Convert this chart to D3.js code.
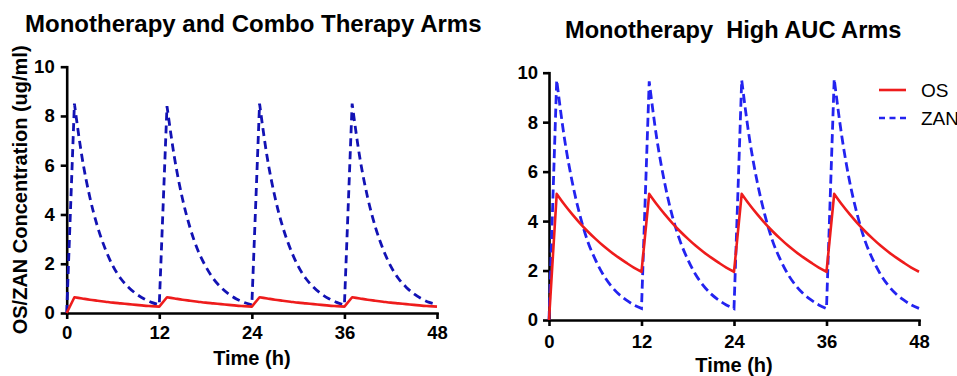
<!DOCTYPE html>
<meta charset="utf-8">
<script src="https://d3js.org/d3.v7.min.js"></script>
<style>
  body { margin: 0; background: #fff; }
  svg { display: block; }
</style>
<div id="chart"></div>
<script>

// time points (h) and axis ticks
var hours = [0,1,2,3,4,5,6,7,8,9,10,11,12,
             13,14,15,16,17,18,19,20,21,22,23,24,
             25,26,27,28,29,30,31,32,33,34,35,36,
             37,38,39,40,41,42,43,44,45,46,47,48];
var timeTicks = [0, 12, 24, 36, 48];
var concTicks = [0, 2, 4, 6, 8, 10];
// index of the peak after each dose (q12h)
var peakIdx = [1, 13, 25, 37];

// Monotherapy and Combo Therapy arms (ug/ml)
var osCombo = [0, 0.64, 0.59, 0.54, 0.50, 0.46, 0.42, 0.39, 0.36, 0.33, 0.30, 0.28, 0.26,
                  0.64, 0.59, 0.54, 0.50, 0.46, 0.42, 0.39, 0.36, 0.33, 0.30, 0.28, 0.26,
                  0.64, 0.59, 0.54, 0.50, 0.46, 0.42, 0.39, 0.36, 0.33, 0.30, 0.28, 0.26,
                  0.64, 0.59, 0.54, 0.50, 0.46, 0.42, 0.39, 0.36, 0.33, 0.30, 0.28, 0.26];
var zanCombo = [0, 8.5, 6.3, 4.7, 3.5, 2.6, 1.9, 1.4, 1.05, 0.78, 0.58, 0.43, 0.33,
                   8.4, 6.25, 4.65, 3.45, 2.55, 1.9, 1.4, 1.04, 0.77, 0.57, 0.43, 0.33,
                   8.5, 6.3, 4.7, 3.5, 2.6, 1.9, 1.4, 1.05, 0.78, 0.58, 0.43, 0.33,
                   8.5, 6.3, 4.7, 3.5, 2.6, 1.9, 1.4, 1.05, 0.78, 0.58, 0.43, 0.35];

// Monotherapy High AUC arms (ug/ml)
var osHigh = [0, 5.1, 4.67, 4.28, 3.92, 3.59, 3.29, 3.01, 2.76, 2.53, 2.32, 2.12, 1.95,
                 5.1, 4.67, 4.28, 3.92, 3.59, 3.29, 3.01, 2.76, 2.53, 2.32, 2.12, 1.95,
                 5.1, 4.67, 4.28, 3.92, 3.59, 3.29, 3.01, 2.76, 2.53, 2.32, 2.12, 1.95,
                 5.1, 4.67, 4.28, 3.92, 3.59, 3.29, 3.01, 2.76, 2.53, 2.32, 2.12, 1.95];
var zanHigh = [0, 9.7, 7.35, 5.6, 4.25, 3.2, 2.45, 1.85, 1.4, 1.06, 0.81, 0.61, 0.47,
                  9.65, 7.3, 5.55, 4.2, 3.2, 2.45, 1.85, 1.4, 1.06, 0.81, 0.61, 0.46,
                  9.7, 7.35, 5.6, 4.25, 3.2, 2.45, 1.85, 1.4, 1.06, 0.81, 0.61, 0.46,
                  9.75, 7.4, 5.6, 4.25, 3.2, 2.45, 1.85, 1.4, 1.06, 0.81, 0.61, 0.47];

var seriesNames = ["OS", "ZAN"];

var FONT = '"Liberation Sans", Arial, Helvetica, sans-serif';
var RED = "#ee1c1c";

var svg = d3.select("#chart")
  .append("svg")
    .attr("width", 957)
    .attr("height", 376)
    .style("font-family", FONT);

// linear rise after each dose, smooth decay until the next one
function pkPath(vals, x, y) {
  var lin = d3.line()
    .x(function(i) { return x(hours[i]); })
    .y(function(i) { return y(vals[i]); });
  var mono = d3.line()
    .curve(d3.curveMonotoneX)
    .x(function(i) { return x(hours[i]); })
    .y(function(i) { return y(vals[i]); });
  var d = "";
  peakIdx.forEach(function(pk, k) {
    var rise = lin([pk - 1, pk]);
    var end = k < peakIdx.length - 1 ? peakIdx[k + 1] - 1 : hours.length - 1;
    var decay = mono(d3.range(pk, end + 1));
    d += (k === 0 ? rise : rise.replace(/^M[^L]*/, "")) + decay.replace(/^M/, "L");
  });
  return d;
}

function drawPanel(p) {
  var x = d3.scaleLinear().domain([0, 48]).range([p.x0, p.x1]);
  var y = d3.scaleLinear().domain([0, 10]).range([p.y0, p.y1]);
  var g = svg.append("g");

  // title
  g.append("text")
    .attr("x", p.titleX)
    .attr("y", p.titleY)
    .style("white-space", "pre")
    .attr("font-size", p.titleSize)
    .attr("font-weight", "bold")
    .text(p.title);

  // x axis
  var xa = g.append("g")
    .attr("transform", "translate(0," + p.y0 + ")")
    .call(d3.axisBottom(x).tickValues(timeTicks).tickSize(6).tickSizeOuter(0).tickPadding(p.xPad));
  // y axis
  var ya = g.append("g")
    .attr("transform", "translate(" + p.x0 + ",0)")
    .call(d3.axisLeft(y).tickValues(concTicks).tickSize(6).tickSizeOuter(0).tickPadding(p.yPad));

  [xa, ya].forEach(function(a) {
    a.attr("font-family", FONT).attr("font-size", 18.5).attr("font-weight", "bold");
    a.select(".domain").attr("stroke-width", 2.6).attr("stroke-linecap", "square");
    a.selectAll(".tick line").attr("stroke-width", 2.6);
  });

  // axis titles
  g.append("text")
    .attr("x", (p.x0 + p.x1) / 2)
    .attr("y", p.xTitleY)
    .attr("text-anchor", "middle")
    .attr("font-size", 20)
    .attr("font-weight", "bold")
    .text("Time (h)");

  if (p.yTitle) {
    g.append("text")
      .attr("transform", "translate(27," + ((p.y0 + p.y1) / 2) + ") rotate(-90)")
      .attr("text-anchor", "middle")
      .attr("font-size", 20)
      .attr("font-weight", "bold")
      .text(p.yTitle);
  }

  // curves
  g.append("path")
    .attr("d", pkPath(p.zan, x, y))
    .attr("fill", "none")
    .attr("stroke", p.blue)
    .attr("stroke-width", 2.8)
    .attr("stroke-dasharray", p.dash);
  g.append("path")
    .attr("d", pkPath(p.os, x, y))
    .attr("fill", "none")
    .attr("stroke", RED)
    .attr("stroke-width", 2.6)
    .attr("stroke-linejoin", "round");

  // legend (the reference clips "ZAN" at the right edge)
  if (p.legend) {
    var lg = g.append("g").attr("transform", "translate(879,90)");
    seriesNames.forEach(function(name, i) {
      lg.append("line")
        .attr("x1", 0).attr("x2", 27)
        .attr("y1", i * 28).attr("y2", i * 28)
        .attr("stroke", i === 0 ? RED : p.blue)
        .attr("stroke-width", 2.6)
        .attr("stroke-dasharray", i === 0 ? null : "6,4.5");
      lg.append("text")
        .attr("x", 42)
        .attr("y", i * 28 + 7)
        .attr("font-size", 19)
        .text(name);
    });
  }
}

drawPanel({
  title: "Monotherapy and Combo Therapy Arms", titleX: 25, titleY: 32, titleSize: 24,
  x0: 66.7, x1: 437, y0: 313, y1: 66.7, xPad: 7, yPad: 6, xTitleY: 365,
  yTitle: "OS/ZAN Concentration (ug/ml)",
  os: osCombo, zan: zanCombo, blue: "#1212b4", dash: "8,5", legend: false
});

drawPanel({
  title: "Monotherapy  High AUC Arms", titleX: 565, titleY: 38, titleSize: 23.6,
  x0: 549, x1: 919, y0: 320, y1: 72.7, xPad: 9, yPad: 5, xTitleY: 372,
  yTitle: null,
  os: osHigh, zan: zanHigh, blue: "#2323f0", dash: "9,4.5", legend: true
});

</script>
